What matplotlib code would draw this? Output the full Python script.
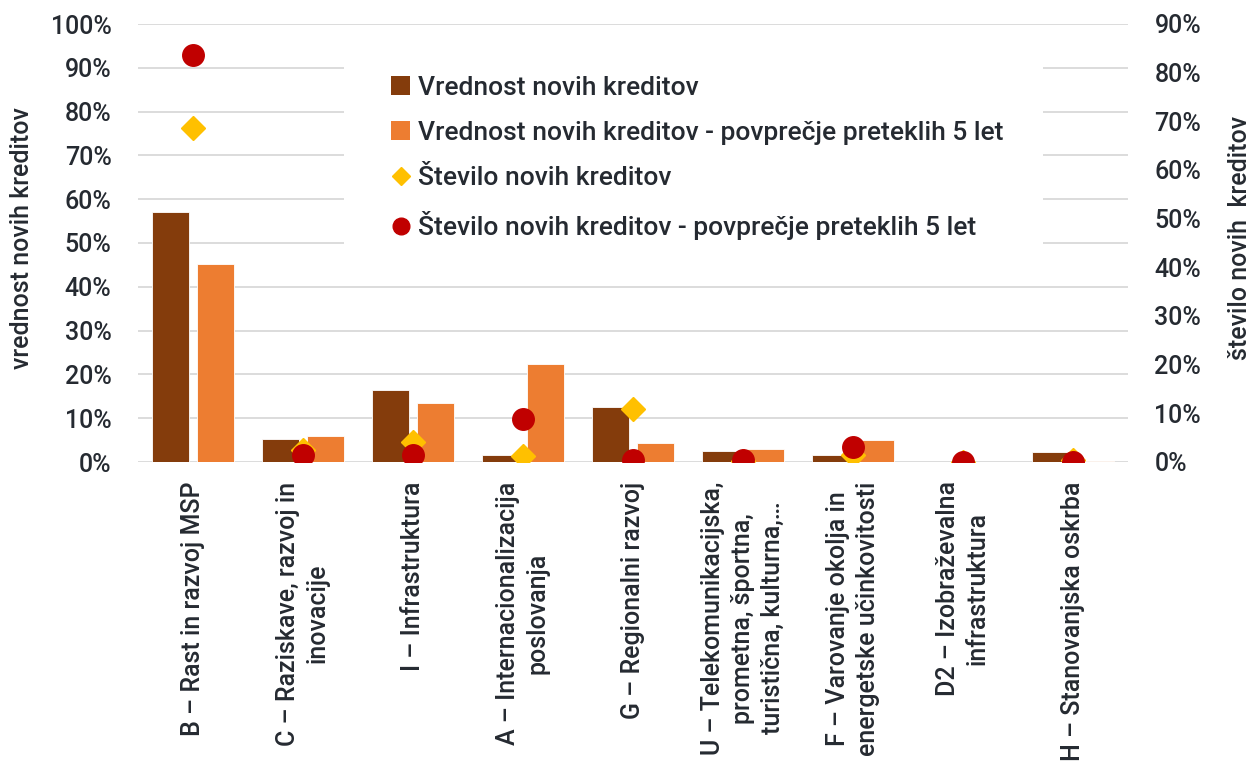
import matplotlib
matplotlib.use("Agg")
import matplotlib.pyplot as plt
import numpy as np
from matplotlib.patches import Rectangle
from matplotlib.lines import Line2D
from matplotlib.patches import Patch
from matplotlib.ticker import PercentFormatter, MultipleLocator

plt.rcParams['font.family'] = ['Roboto', 'DejaVu Sans']
plt.rcParams['font.weight'] = 'medium'

categories = [
    "B – Rast in razvoj MSP",
    "C – Raziskave, razvoj in\ninovacije",
    "I – Infrastruktura",
    "A – Internacionalizacija\nposlovanja",
    "G – Regionalni razvoj",
    "U – Telekomunikacijska,\nprometna, športna,\nturistična, kulturna,…",
    "F – Varovanje okolja in\nenergetske učinkovitosti",
    "D2 – Izobraževalna\ninfrastruktura",
    "H – Stanovanjska oskrba",
]
vrednost = [57.0, 5.3, 16.4, 1.6, 12.6, 2.5, 1.6, 0.05, 2.3]
vrednost_avg = [45.2, 6.0, 13.5, 22.4, 4.3, 2.9, 5.0, 0.05, 0.15]
stevilo = [68.6, 2.5, 4.2, 1.3, 10.9, 0.3, 1.4, 0.1, 0.4]
stevilo_avg = [83.6, 1.4, 1.4, 8.8, 0.4, 0.4, 3.1, 0.1, 0.1]

labels = ["Vrednost novih kreditov",
          "Vrednost novih kreditov - povprečje preteklih 5 let",
          "Število novih kreditov",
          "Število novih kreditov - povprečje preteklih 5 let"]

c_dark = '#843c0c'
c_orange = '#ed7d31'
c_gold = '#ffc000'
c_red = '#c00000'
txt = '#252a31'
grid_c = '#d9d9d9'
fs = 18
fs_leg = 19

fig = plt.figure(figsize=(12.55, 7.72), dpi=100)
ax = fig.add_axes([138/1255, 1-462/772, (1128-138)/1255, (462-24)/772])
ax2 = ax.twinx()

x = np.arange(len(categories))
w = 0.34
off = 0.207
ax.bar(x - off, vrednost, w, color=c_dark, edgecolor='white', linewidth=0.6, zorder=2)
ax.bar(x + off, vrednost_avg, w, color=c_orange, edgecolor='white', linewidth=0.6, zorder=2)

ax2.plot(x, stevilo, linestyle='none', marker='D', markersize=12, color=c_gold, zorder=3)
ax2.plot(x, stevilo_avg, linestyle='none', marker='o', markersize=15.5, color=c_red, zorder=4)

ax.set_xlim(-0.5, len(categories) - 0.5)
ax.set_ylim(0, 100)
ax2.set_ylim(0, 90)
ax.yaxis.set_major_locator(MultipleLocator(10))
ax2.yaxis.set_major_locator(MultipleLocator(10))
ax.yaxis.set_major_formatter(PercentFormatter(decimals=0))
ax2.yaxis.set_major_formatter(PercentFormatter(decimals=0))

ax.set_axisbelow(True)
ax.grid(axis='y', color=grid_c, linewidth=1.3, zorder=0)
for a in (ax, ax2):
    for s in a.spines.values():
        s.set_visible(False)
    a.tick_params(axis='both', length=0, labelsize=fs, labelcolor=txt)
ax.tick_params(axis='y', pad=19)
ax2.tick_params(axis='y', pad=19)

ax.set_xticks(x)
ax.set_xticklabels(categories, rotation=90, ha='center', va='top',
                   multialignment='center', fontsize=fs, color=txt,
                   linespacing=1.3)
ax.tick_params(axis='x', pad=14)

# white legend background interrupting gridlines
bg = Rectangle((344/1255, 1-265/772), (1043-344)/1255, (265-30)/772,
               transform=fig.transFigure, facecolor='white', edgecolor='none', zorder=1)
ax.add_patch(bg)
bg.set_zorder(1)

handles = [Patch(facecolor=c_dark, edgecolor='none'),
           Patch(facecolor=c_orange, edgecolor='none'),
           Line2D([], [], linestyle='none', marker='D', markersize=9, color=c_gold),
           Line2D([], [], linestyle='none', marker='o', markersize=12, color=c_red)]
leg = ax2.legend(handles, labels, loc='upper left', bbox_to_anchor=(391/1255, 1-76/772),
                 bbox_transform=fig.transFigure, frameon=False, fontsize=fs_leg,
                 labelcolor=txt, handlelength=0.72, handleheight=0.72, handletextpad=0.3,
                 labelspacing=0.8, borderpad=0, borderaxespad=0)

fig.text(22/1255, 1-238/772, "vrednost novih kreditov", rotation=90, ha='center', va='center',
         fontsize=fs, color=txt)
fig.text(1240/1255, 1-238/772, "število novih  kreditov", rotation=90, ha='center', va='center',
         fontsize=fs, color=txt)

fig.savefig("out.png", dpi=100, facecolor='white')
